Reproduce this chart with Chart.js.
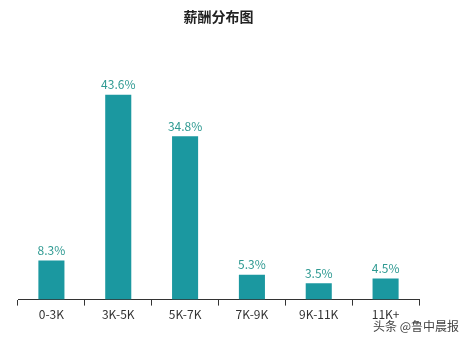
<!DOCTYPE html>
<html>
<head>
<meta charset="utf-8">
<script src="https://cdn.jsdelivr.net/npm/chart.js@4/dist/chart.umd.min.js"></script>
<style>
  html, body { margin: 0; padding: 0; background: #fff; }
  #wrap { position: relative; width: 469px; height: 340px; }
  #mark { position: absolute; left: 373px; top: 317px; font: 12px "Noto Sans CJK SC", sans-serif; color: #444; white-space: nowrap; }
</style>
</head>
<body>
<div id="wrap">
  <canvas id="grafico" width="469" height="340"></canvas>
  <div id="mark">头条 @鲁中晨报</div>
</div>
<script>
var categorias = ['0-3K', '3K-5K', '5K-7K', '7K-9K', '9K-11K', '11K+'];
var porcentajes = [8.3, 43.6, 34.8, 5.3, 3.5, 4.5];
var tituloGrafico = '薪酬分布图';

var fuente = '"Noto Sans CJK SC", "Open Sans", sans-serif';

// etiquetas encima de cada barra
var etiquetasBarras = {
  id: 'etiquetasBarras',
  afterDatasetsDraw: function (chart) {
    var ctx = chart.ctx;
    var meta = chart.getDatasetMeta(0);
    ctx.save();
    ctx.fillStyle = '#2f9a92';
    ctx.font = '12px ' + fuente;
    ctx.textAlign = 'center';
    ctx.textBaseline = 'bottom';
    meta.data.forEach(function (bar, i) {
      ctx.fillText(porcentajes[i].toFixed(1) + '%', bar.x, bar.y - 4);
    });
    ctx.restore();
  }
};

var ctx = document.getElementById('grafico').getContext('2d');
var miGrafico = new Chart(ctx, {
  type: 'bar',
  data: {
    labels: categorias,
    datasets: [{
      data: porcentajes,
      backgroundColor: '#1b98a0',
      borderWidth: 0,
      categoryPercentage: 1,
      barPercentage: 0.39
    }]
  },
  options: {
    responsive: false,
    animation: false,
    layout: { padding: { left: 18, right: 50, top: 8, bottom: 16 } },
    plugins: {
      legend: { display: false },
      tooltip: { enabled: false },
      title: {
        display: true,
        text: tituloGrafico,
        color: '#222',
        font: { family: fuente, size: 14, weight: 'bold' },
        padding: { top: 0, bottom: 40 }
      }
    },
    scales: {
      x: {
        grid: { drawOnChartArea: false, drawTicks: true, tickLength: 6, color: '#333', offset: true },
        border: { color: '#333', width: 1 },
        ticks: { color: '#333', font: { family: fuente, size: 12 }, padding: 2, maxRotation: 0 }
      },
      y: {
        display: false,
        min: 0,
        max: 50
      }
    }
  },
  plugins: [etiquetasBarras]
});
</script>
</body>
</html>
